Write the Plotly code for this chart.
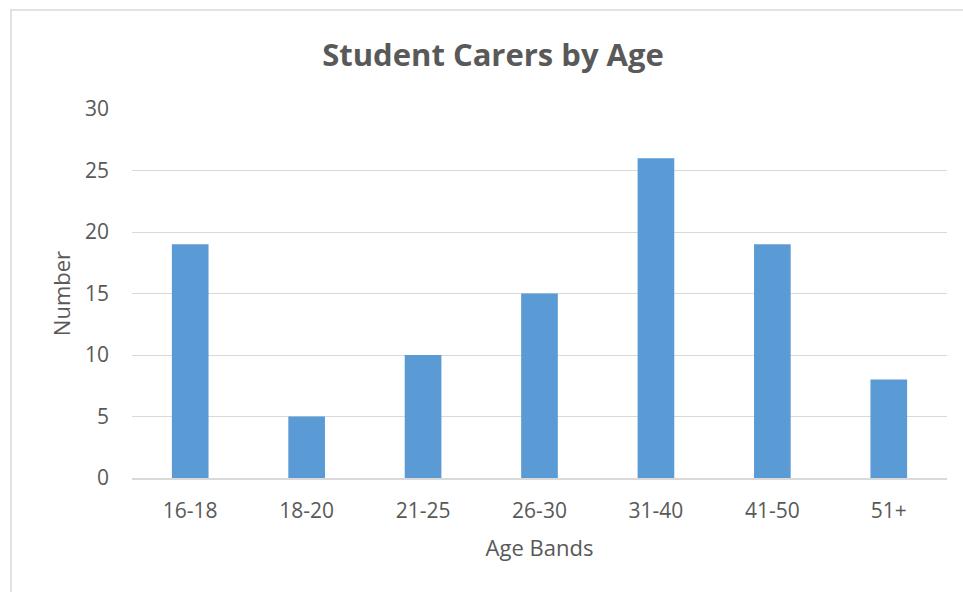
import plotly.graph_objects as go

categories = ["16-18", "18-20", "21-25", "26-30", "31-40", "41-50", "51+"]
values = [19, 5, 10, 15, 26, 19, 8]
y_ticks = [0, 5, 10, 15, 20, 25, 30]

TEXT = "#595959"
GRID = "#d9d9d9"
BAR = "#5B9BD5"
FONT = "Open Sans, sans-serif"

fig = go.Figure(go.Bar(x=categories, y=values, marker=dict(color=BAR, line=dict(width=0)), width=0.315))

L, R, T, B = 132, 16, 109, 114
W, H = 963, 592
pw, ph = W - L - R, H - T - B

fig.update_layout(
    width=W, height=H,
    margin=dict(l=L, r=R, t=T, b=B, pad=0),
    paper_bgcolor="white", plot_bgcolor="white",
    font=dict(family=FONT, color=TEXT, size=18),
    title=dict(text="<b>Student Carers by Age</b>", x=493 / W, xanchor="center",
               y=1 - 55 / H, yanchor="middle", font=dict(size=31, color=TEXT, family=FONT)),
    showlegend=False,
    xaxis=dict(
        showgrid=False, showline=True, linecolor=GRID, linewidth=1.5,
        ticks="", ticklabelstandoff=13, tickfont=dict(size=21, color=TEXT),
        title=dict(text="Age Bands", standoff=18, font=dict(size=22, color=TEXT)),
    ),
    yaxis=dict(
        range=[0, 30], tickvals=y_ticks, showgrid=True, gridcolor=GRID, gridwidth=1.3,
        zeroline=False, showline=False, ticks="", ticklabelstandoff=22,
        tickfont=dict(size=21, color=TEXT),
        title=dict(text="Number", standoff=8, font=dict(size=22, color=TEXT)),
    ),
    shapes=[dict(type="rect", xref="paper", yref="paper",
                 x0=(11 - L) / pw, x1=(W + 20 - L) / pw,
                 y0=-(H + 20 - (H - B)) / ph, y1=((H - B) - 10) / ph,
                 line=dict(color=GRID, width=1.5), fillcolor="rgba(0,0,0,0)", layer="below")],
)

fig.write_html("out.html")
